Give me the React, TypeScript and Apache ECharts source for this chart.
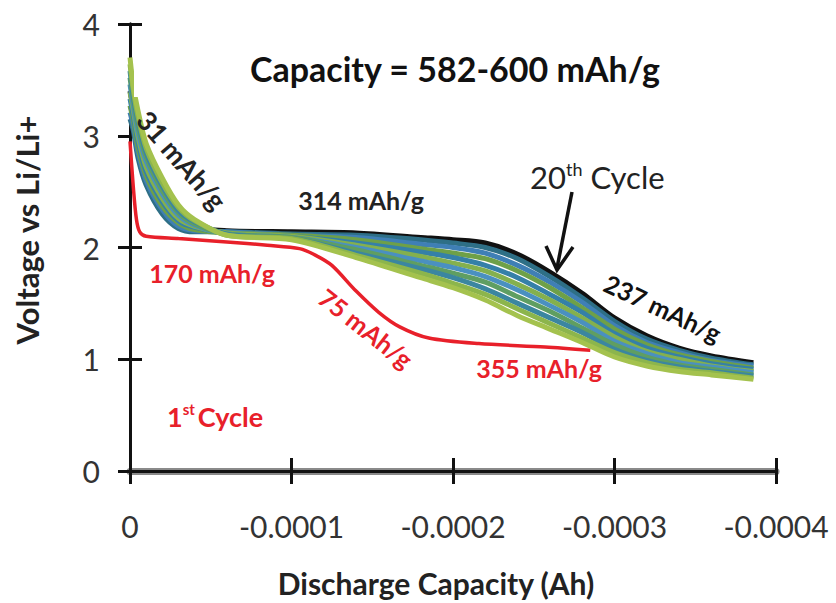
import React, { useEffect, useRef } from 'react';
import * as echarts from 'echarts';

// Discharge capacity grid (Ah) shared by the cycle 2-20 curves
const capacityAh = [0, -0.000002, -0.000005, -0.00001, -0.00002, -0.00003, -0.00004, -0.00006, -0.0001, -0.00014, -0.00018, -0.0002, -0.00022, -0.00024, -0.00026, -0.00028, -0.0003, -0.00032, -0.00034, -0.00036, -0.000386];

// 20th cycle (black)
const cycle20Voltage = [3.40, 3.25, 3.00, 2.75, 2.45, 2.27, 2.18, 2.15, 2.14, 2.13, 2.09, 2.07, 2.04, 1.94, 1.78, 1.59, 1.37, 1.21, 1.10, 1.03, 0.97];

// intermediate cycles (band)
const bandCurveA = [3.15, 3.05, 2.80, 2.56, 2.30, 2.17, 2.14, 2.14, 2.12, 2.11, 2.07, 2.04, 2.00, 1.90, 1.74, 1.55, 1.34, 1.18, 1.08, 1.01, 0.95];
const bandCurveB = [3.21, 3.09, 2.85, 2.60, 2.34, 2.19, 2.15, 2.14, 2.11, 2.09, 2.03, 2.00, 1.95, 1.84, 1.69, 1.51, 1.30, 1.15, 1.06, 0.99, 0.94];
const bandCurveC = [3.27, 3.14, 2.89, 2.64, 2.37, 2.22, 2.16, 2.13, 2.11, 2.07, 1.99, 1.95, 1.90, 1.79, 1.64, 1.46, 1.27, 1.13, 1.04, 0.98, 0.92];
const bandCurveD = [3.33, 3.18, 2.94, 2.68, 2.41, 2.24, 2.18, 2.13, 2.10, 2.04, 1.96, 1.91, 1.84, 1.73, 1.58, 1.42, 1.23, 1.10, 1.02, 0.96, 0.91];
const bandCurveE = [3.39, 3.23, 2.99, 2.72, 2.44, 2.26, 2.19, 2.13, 2.10, 2.02, 1.92, 1.86, 1.79, 1.67, 1.53, 1.37, 1.20, 1.07, 1.00, 0.94, 0.89];
const bandCurveF = [3.46, 3.27, 3.03, 2.77, 2.48, 2.29, 2.20, 2.12, 2.09, 2.00, 1.88, 1.82, 1.74, 1.62, 1.48, 1.33, 1.16, 1.05, 0.97, 0.93, 0.88];
const bandCurveG = [3.52, 3.32, 3.08, 2.81, 2.51, 2.31, 2.21, 2.12, 2.09, 1.98, 1.84, 1.77, 1.69, 1.56, 1.43, 1.28, 1.13, 1.02, 0.95, 0.91, 0.86];
const bandCurveH = [3.58, 3.36, 3.13, 2.85, 2.55, 2.33, 2.23, 2.12, 2.08, 1.95, 1.81, 1.73, 1.63, 1.50, 1.37, 1.24, 1.09, 0.99, 0.93, 0.89, 0.85];
const bandCurveI = [3.64, 3.41, 3.17, 2.89, 2.58, 2.36, 2.24, 2.11, 2.08, 1.93, 1.77, 1.68, 1.58, 1.45, 1.32, 1.19, 1.06, 0.97, 0.91, 0.88, 0.83];
const bandCurveJ = [3.70, 3.45, 3.22, 2.93, 2.62, 2.38, 2.25, 2.11, 2.07, 1.91, 1.73, 1.64, 1.53, 1.39, 1.27, 1.15, 1.02, 0.94, 0.89, 0.86, 0.82];

const bandCurves = [bandCurveA, bandCurveB, bandCurveC, bandCurveD, bandCurveE, bandCurveF, bandCurveG, bandCurveH, bandCurveI, bandCurveJ];
const bandColors = ['#2e6f86', '#3f7fb5', '#6ea048', '#3580a8', '#84b04e', '#4a90c0', '#5f9e62', '#3b86a0', '#8cb54c', '#a4c24e'];

// 1st cycle (red)
const cycle1Capacity = [0, -0.000002, -0.000004, -0.000006, -0.00001, -0.00003, -0.00006, -0.000085, -0.000105, -0.000115, -0.000125, -0.00014, -0.000154, -0.000167, -0.000185, -0.000216, -0.000257, -0.000285];
const cycle1Voltage = [2.95, 2.55, 2.25, 2.14, 2.10, 2.08, 2.05, 2.02, 1.99, 1.93, 1.84, 1.61, 1.42, 1.29, 1.19, 1.14, 1.11, 1.08];

const xTicks = { min: -0.0004, max: 0, interval: 0.0001 };
const yTicks = { min: 0, max: 4, interval: 1 };

const FONT = 'Lato, "Open Sans", sans-serif';
const RED = '#e8202a';

const zip = (xs: number[], ys: number[]) => ys.map((y, i) => [xs[i], y]);

export default function App() {
  const ref = useRef<HTMLDivElement>(null);
  useEffect(() => {
    const chart = echarts.init(ref.current!, null, { renderer: 'svg' });
    const series: any[] = [];
    series.push({
      type: 'line', data: zip(cycle1Capacity, cycle1Voltage), showSymbol: false, smooth: 0.3,
      lineStyle: { color: RED, width: 3.5 }, z: 2,
    });
    series.push({
      type: 'line', data: zip(capacityAh, cycle20Voltage), showSymbol: false, smooth: 0.3,
      lineStyle: { color: '#111', width: 5 }, z: 3,
    });
    bandCurves.forEach((c, i) => {
      series.push({
        type: 'line', data: zip(capacityAh, c), showSymbol: false, smooth: 0.3,
        lineStyle: { color: bandColors[i], width: 5 }, z: 4,
      });
    });

    const option: any = {
      animation: false,
      backgroundColor: '#fff',
      grid: { left: 130, right: 60, top: 24, bottom: 132, containLabel: false },
      xAxis: [
        {
          type: 'value', ...xTicks, inverse: true, position: 'bottom',
          axisLine: { show: true, lineStyle: { color: '#8a8a8a', width: 7 } },
          axisTick: { show: true, length: 13, lineStyle: { color: '#111', width: 3 } },
          axisLabel: {
            margin: 40, fontSize: 30, color: '#333', fontFamily: FONT,
            formatter: (v: number) => (v === 0 ? '0' : v.toFixed(4)),
          },
          splitLine: { show: false },
        },
        {
          type: 'value', ...xTicks, inverse: true, position: 'bottom', offset: 0,
          axisLine: { show: true, lineStyle: { color: '#d8d8d8', width: 3 } },
          axisTick: { show: true, inside: true, length: 13, lineStyle: { color: '#111', width: 3 } },
          axisLabel: { show: false }, splitLine: { show: false },
        },
        {
          type: 'value', ...xTicks, inverse: true, position: 'top',
          axisLine: { show: true, lineStyle: { color: '#111', width: 3 } },
          axisTick: { show: false }, axisLabel: { show: false }, splitLine: { show: false },
        },
      ],
      yAxis: [
        {
          type: 'value', ...yTicks, position: 'left',
          axisLine: { show: true, lineStyle: { color: '#111', width: 3 } },
          axisTick: { show: true, length: 12, lineStyle: { color: '#111', width: 3 } },
          axisLabel: { margin: 30, fontSize: 30, color: '#333', fontFamily: FONT },
          splitLine: { show: false },
        },
        {
          type: 'value', ...yTicks, position: 'left', offset: 0,
          axisLine: { show: false },
          axisTick: { show: true, inside: true, length: 12, lineStyle: { color: '#111', width: 3 } },
          axisLabel: { show: false }, splitLine: { show: false },
        },
        {
          type: 'value', ...yTicks, position: 'right',
          axisLine: { show: true, lineStyle: { color: '#111', width: 3 } },
          axisTick: { show: false }, axisLabel: { show: false }, splitLine: { show: false },
        },
      ],
      series,
      graphic: [
        { type: 'rect', z: 100, shape: { x: 134, y: 27, width: 639, height: 70 }, style: { fill: '#fff' } },
        {
          type: 'text', z: 101, x: 455, y: 68,
          style: { text: 'Capacity = 582-600 mAh/g', fontSize: 34, fontWeight: 'bold', fontFamily: FONT, fill: '#111', align: 'center', verticalAlign: 'middle' },
        },
        {
          type: 'text', z: 101, x: 182, y: 160, rotation: -49 * Math.PI / 180,
          style: { text: '31 mAh/g', fontSize: 27, fontWeight: 'bold', fontFamily: FONT, fill: '#222', align: 'center', verticalAlign: 'middle' },
        },
        {
          type: 'text', z: 101, x: 361, y: 200,
          style: { text: '314 mAh/g', fontSize: 25, fontWeight: 'bold', fontFamily: FONT, fill: '#222', align: 'center', verticalAlign: 'middle' },
        },
        {
          type: 'text', z: 101, x: 212, y: 273,
          style: { text: '170 mAh/g', fontSize: 25, fontWeight: 'bold', fontFamily: FONT, fill: RED, align: 'center', verticalAlign: 'middle' },
        },
        {
          type: 'text', z: 101, x: 366, y: 328, rotation: -38 * Math.PI / 180,
          style: { text: '75 mAh/g', fontSize: 25, fontWeight: 'bold', fontFamily: FONT, fill: RED, align: 'center', verticalAlign: 'middle' },
        },
        {
          type: 'text', z: 101, x: 539, y: 368,
          style: { text: '355 mAh/g', fontSize: 25, fontWeight: 'bold', fontFamily: FONT, fill: RED, align: 'center', verticalAlign: 'middle' },
        },
        {
          type: 'text', z: 101, x: 663, y: 308, rotation: -25 * Math.PI / 180,
          style: { text: '237 mAh/g', fontSize: 25, fontWeight: 'bold', fontFamily: FONT, fill: '#111', align: 'center', verticalAlign: 'middle' },
        },
        {
          type: 'text', z: 101, x: 167, y: 416,
          style: {
            text: '{n|1}{s|st}{n|Cycle}', align: 'left', verticalAlign: 'middle',
            rich: {
              n: { fontSize: 27, fontWeight: 'bold', fontFamily: FONT, fill: RED, lineHeight: 30 },
              s: { fontSize: 15, fontWeight: 'bold', fontFamily: FONT, fill: RED, verticalAlign: 'top', padding: [0, 3, 0, 0] },
            },
          },
        },
        {
          type: 'text', z: 101, x: 530, y: 177,
          style: {
            text: '{n|20}{s|th}{n| Cycle}', align: 'left', verticalAlign: 'middle',
            rich: {
              n: { fontSize: 31, fontFamily: FONT, fill: '#222', lineHeight: 34 },
              s: { fontSize: 18, fontFamily: FONT, fill: '#222', verticalAlign: 'top' },
            },
          },
        },
        { type: 'line', z: 101, shape: { x1: 572, y1: 192, x2: 557, y2: 268 }, style: { stroke: '#111', lineWidth: 3.5 } },
        { type: 'polyline', z: 101, shape: { points: [[546, 246], [557, 270], [573, 247]] }, style: { stroke: '#111', lineWidth: 3.5, fill: 'none' } },
        {
          type: 'text', z: 101, x: 27, y: 230, rotation: Math.PI / 2,
          style: { text: 'Voltage vs Li/Li+', fontSize: 31, fontWeight: 'bold', fontFamily: FONT, fill: '#222', align: 'center', verticalAlign: 'middle' },
        },
        {
          type: 'text', z: 101, x: 436, y: 583,
          style: { text: 'Discharge Capacity (Ah)', fontSize: 30, fontWeight: 'bold', fontFamily: FONT, fill: '#222', align: 'center', verticalAlign: 'middle' },
        },
      ],
    };
    chart.setOption(option);
    return () => chart.dispose();
  }, []);
  return <div ref={ref} style={{ position: 'fixed', left: 0, top: 0, width: 836, height: 603, background: '#fff' }} />;
}
